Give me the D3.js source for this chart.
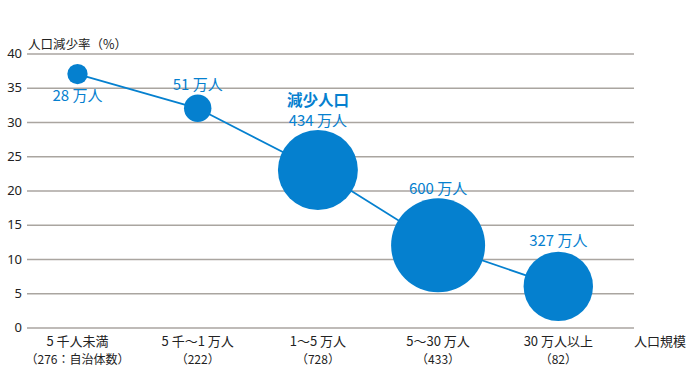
<!DOCTYPE html>
<html><head><meta charset="utf-8">
<script src="https://cdn.jsdelivr.net/npm/d3@7"></script>
<style>
html,body{margin:0;padding:0;background:#fff;}
svg{display:block;font-family:"Noto Sans CJK JP","Noto Sans",sans-serif;}
</style></head>
<body>
<svg id="chart" width="690" height="383"></svg>
<script>
const categories = ["5 千人未満", "5 千～1 万人", "1～5 万人", "5～30 万人", "30 万人以上"];
const municipalityCounts = ["（276：自治体数）", "（222）", "（728）", "（433）", "（82）"];
const declineRate = [37, 32, 23, 12, 6];
const populationLoss = [28, 51, 434, 600, 327];
const bubbleLabels = ["28 万人", "51 万人", "434 万人", "600 万人", "327 万人"];
const yTicks = [0, 5, 10, 15, 20, 25, 30, 35, 40];
const yTitle = "人口減少率（%）";
const xTitle = "人口規模";
const highlightTitle = "減少人口";

const blue = "#0580cf";
const svg = d3.select("#chart");

const x = d3.scalePoint().domain(categories).range([77.5, 558.3]);
const y = d3.scaleLinear().domain([0, 40]).range([327.5, 53.5]);
const r = d3.scaleSqrt().domain([0, 600]).range([0, 47]);

// gridlines
const yAxis = d3.axisLeft(y).tickValues(yTicks).tickSize(-(634 - 27)).tickPadding(8).tickFormat(d3.format("d"));
const gAxis = svg.append("g").attr("transform", "translate(27,0)").call(yAxis);
gAxis.select(".domain").remove();
gAxis.selectAll(".tick line").attr("stroke", "#aaa5a0").attr("stroke-width", 1.6);
gAxis.selectAll(".tick text").attr("fill", "#222").attr("font-size", 13).attr("x", -5)
  .attr("font-family", "'Noto Sans','Open Sans',sans-serif");

// y title
svg.append("text").attr("x", 28).attr("y", 49).attr("font-size", 12.5).attr("fill", "#222").text(yTitle);

// x labels
const xl = svg.append("g");
categories.forEach((c, i) => {
  xl.append("text").attr("x", x(c)).attr("y", 346).attr("text-anchor", "middle")
    .attr("font-size", 13).attr("fill", "#222").text(c);
  xl.append("text").attr("x", x(c)).attr("y", 364).attr("text-anchor", "middle")
    .attr("font-size", 12).attr("fill", "#222").text(municipalityCounts[i]);
});
svg.append("text").attr("x", 634).attr("y", 346).attr("font-size", 13).attr("fill", "#222").text(xTitle);

// connecting line
const data = categories.map((c, i) => ({c, v: declineRate[i], p: populationLoss[i], label: bubbleLabels[i]}));
svg.append("path").datum(data)
  .attr("d", d3.line().x(d => x(d.c)).y(d => y(d.v)))
  .attr("fill", "none").attr("stroke", blue).attr("stroke-width", 1.8);

// bubbles
svg.selectAll("circle.b").data(data).join("circle").attr("class", "b")
  .attr("cx", d => x(d.c)).attr("cy", d => y(d.v)).attr("r", d => r(d.p))
  .attr("fill", blue);

// bubble labels
const labelPos = [
  d => y(d.v) + 27,
  d => y(d.v) - 18,
  d => y(d.v) - 44,
  d => y(d.v) - 51,
  d => y(d.v) - 40
];
svg.selectAll("text.bl").data(data).join("text").attr("class", "bl")
  .attr("x", d => x(d.c)).attr("y", (d, i) => labelPos[i](d))
  .attr("text-anchor", "middle").attr("font-size", 15).attr("fill", blue)
  .text(d => d.label);

svg.append("text").attr("x", x(categories[2])).attr("y", 106).attr("text-anchor", "middle")
  .attr("font-size", 15.5).attr("font-weight", "bold").attr("fill", blue).text(highlightTitle);
</script>
</body></html>
